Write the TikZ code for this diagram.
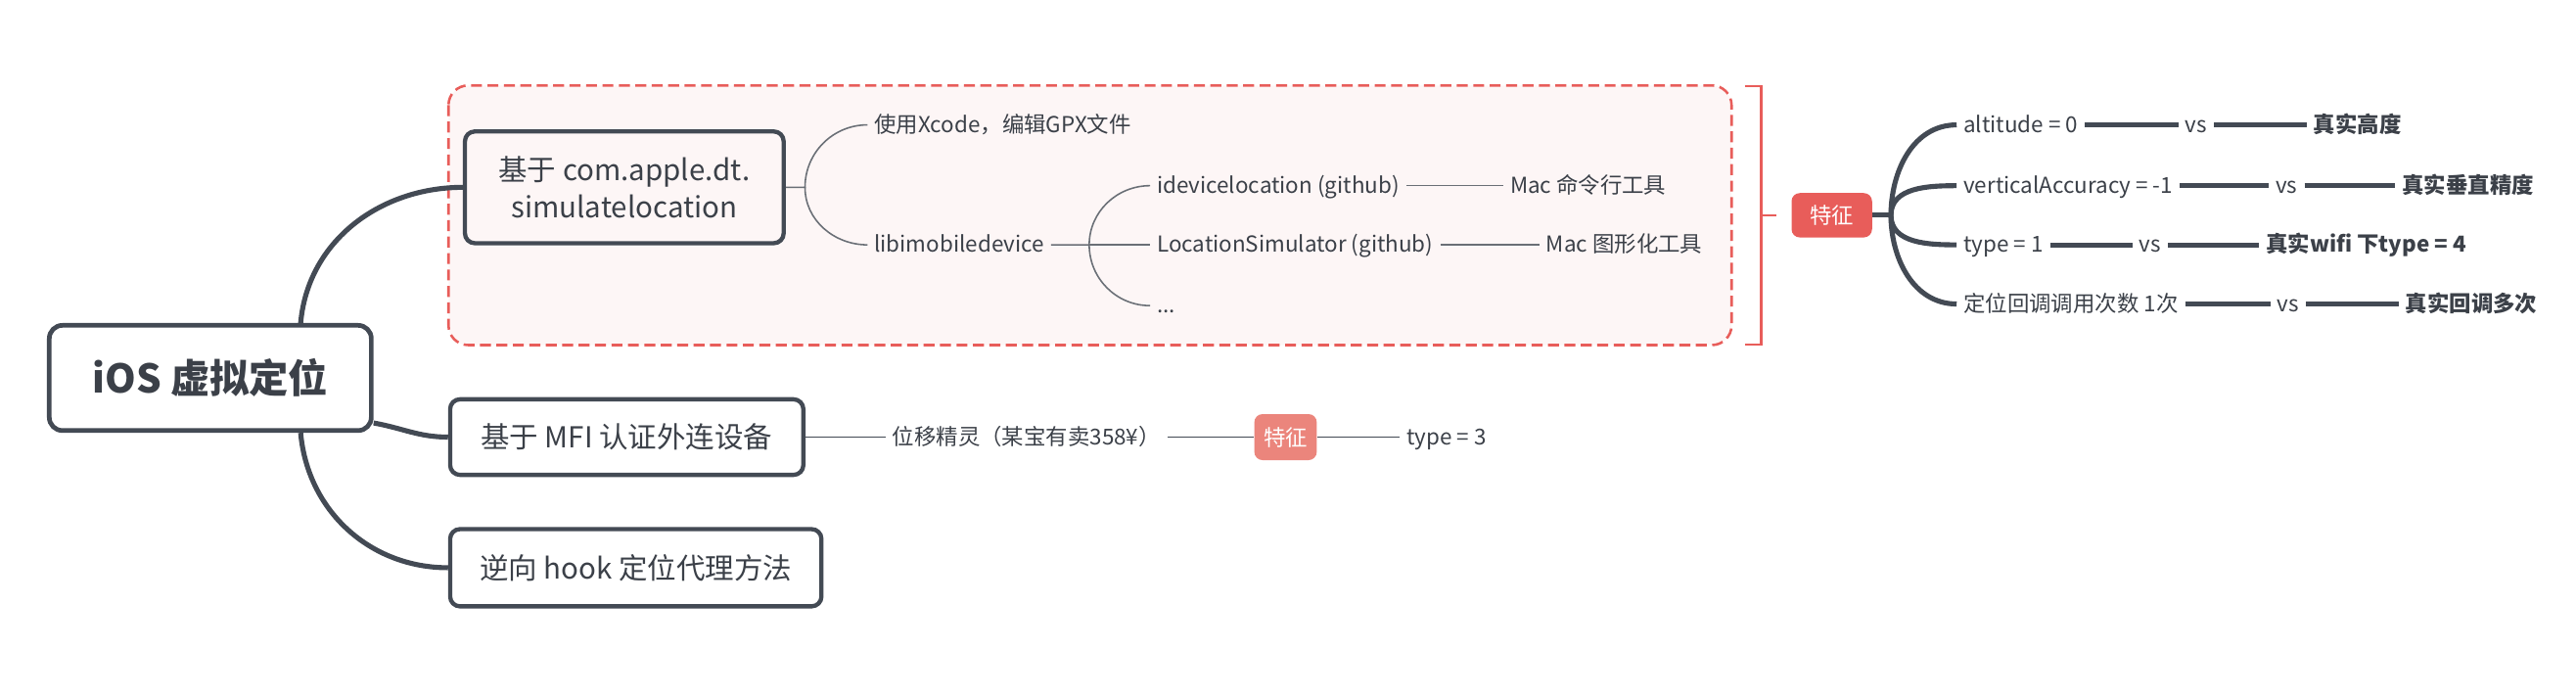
\documentclass[tikz,border=0pt]{standalone}
\usepackage{fontspec}
\setmainfont{Noto Sans CJK SC}
\usetikzlibrary{positioning}
\definecolor{ink}{HTML}{3B4048}
\definecolor{edge}{HTML}{434A54}
\definecolor{twig}{HTML}{6A6F76}
\definecolor{alert}{HTML}{E85D5A}
\definecolor{alertlight}{HTML}{EB857C}
\definecolor{blush}{HTML}{FDF6F6}

\begin{document}
\begin{tikzpicture}[x=0.03cm,y=-0.03cm,
  every node/.style={text=ink},
  rootbox/.style={draw=edge,line width=2.4pt,rounded corners=0.24cm,minimum width=5.88cm,minimum height=1.92cm,font=\fontsize{20.5}{24}\selectfont\bfseries},
  topic/.style={draw=edge,line width=2.2pt,rounded corners=0.18cm,align=center,font=\fontsize{15}{19.5}\selectfont},
  leaf/.style={anchor=west,inner xsep=0.12cm,inner ysep=0.05cm,text height=0.9em,text depth=0.12em,font=\fontsize{11.4}{13}\selectfont},
  boldleaf/.style={leaf,font=\fontsize{11.4}{13}\selectfont\bfseries},
  tag/.style={fill=alert,text=white,rounded corners=0.15cm,minimum height=0.81cm,font=\fontsize{11.4}{13}\selectfont},
  trunk/.style={draw=edge,line width=2.6pt},
  twigline/.style={draw=twig,line width=0.8pt}]
\useasboundingbox (0,0) rectangle (1568,424);
\draw[draw=alert,fill=blush,line width=1.3pt,dash pattern=on 0.2cm off 0.1cm,rounded corners=0.36cm] (273,52) rectangle (1054,210);
\draw[alert,line width=1.1pt] (1062,52.5) -- (1072,52.5) -- (1072,209.7) -- (1062,209.7) (1072,131) -- (1081,131);

\node[rootbox] (root) at (128,230) {iOS 虚拟定位};
\node[topic,minimum width=5.82cm,minimum height=2.04cm] (simloc) at (380,114) {基于 com.apple.dt.\\simulatelocation};
\node[topic,minimum width=6.45cm,minimum height=1.38cm] (mfi) at (381.5,266) {基于 MFI 认证外连设备};
\node[topic,minimum width=6.78cm,minimum height=1.41cm] (hook) at (387,345.5) {逆向 hook 定位代理方法};
\draw[trunk] ([xshift=1.65cm]root.north) to[out=85,in=180] (simloc.west);
\draw[trunk] ([yshift=0.18cm]root.south east) to[out=-10,in=180] (mfi.west);
\draw[trunk] ([xshift=1.65cm]root.south) to[out=-85,in=180] (hook.west);

\node[leaf] (gpx) at (528,76) {使用Xcode，编辑GPX文件};
\node[leaf] (libi) at (528,149) {libimobiledevice};
\node[leaf] (idl) at (700,113) {idevicelocation (github)};
\node[leaf] (locsim) at (700,149) {LocationSimulator (github)};
\node[leaf] (more) at (700,186) {...};
\node[leaf] (cli) at (915,113) {Mac 命令行工具};
\node[leaf] (gui) at (937,149) {Mac 图形化工具};
\coordinate (fork1) at (490,114);
\coordinate (fork2) at (663,149);
\draw[twigline] (simloc.east) -- (fork1) to[out=90,in=180] (gpx.west);
\draw[twigline] (fork1) to[out=-90,in=180] (libi.west);
\draw[twigline] (libi.east) -- (fork2) to[out=90,in=180] (idl.west);
\draw[twigline] (fork2) -- (locsim.west);
\draw[twigline] (fork2) to[out=-90,in=180] (more.west);
\draw[twigline] (idl.east) -- (cli.west);
\draw[twigline] (locsim.east) -- (gui.west);

\node[leaf] (sprite) at (539,266) {位移精灵（某宝有卖358¥）};
\node[tag,fill=alertlight,minimum width=1.14cm,minimum height=0.84cm] (tag2) at (782.5,266) {特征};
\node[leaf] (type3) at (852,266) {type = 3};
\draw[twigline,edge,line width=1pt] (mfi.east) -- (sprite.west);
\draw[twigline,edge,line width=1pt] (sprite.east) -- (tag2.west);
\draw[twigline,edge,line width=1pt] (tag2.east) -- (type3.west);

\node[tag,minimum width=1.47cm] (feat) at (1115,131) {特征};
\coordinate (fork3) at (1151,131);
\draw[trunk] (feat.east) -- (fork3);
\node[leaf] (alt) at (1191,76) {altitude = 0};
\node[leaf] (vs1) at (1326,76) {vs};
\node[boldleaf] (realalt) at (1404,76) {真实高度};
\node[leaf] (vacc) at (1191,113) {verticalAccuracy = -1};
\node[leaf] (vs2) at (1381,113) {vs};
\node[boldleaf] (realvacc) at (1458,113) {真实垂直精度};
\node[leaf] (type1) at (1191,149) {type = 1};
\node[leaf] (vs3) at (1298,149) {vs};
\node[boldleaf] (realtype) at (1375,149) {真实wifi 下type = 4};
\node[leaf] (calls) at (1191,185) {定位回调调用次数 1次};
\node[leaf] (vs4) at (1382,185) {vs};
\node[boldleaf] (realcalls) at (1460,185) {真实回调多次};
\foreach \a in {alt,vacc} \draw[trunk] (fork3) to[out=90,in=180] (\a.west);
\foreach \a in {type1,calls} \draw[trunk] (fork3) to[out=-90,in=180] (\a.west);
\foreach \a/\b/\c in {alt/vs1/realalt,vacc/vs2/realvacc,type1/vs3/realtype,calls/vs4/realcalls}
  {\draw[trunk] (\a.east) -- (\b.west);
   \draw[trunk] (\b.east) -- (\c.west);}
\end{tikzpicture}
\end{document}
